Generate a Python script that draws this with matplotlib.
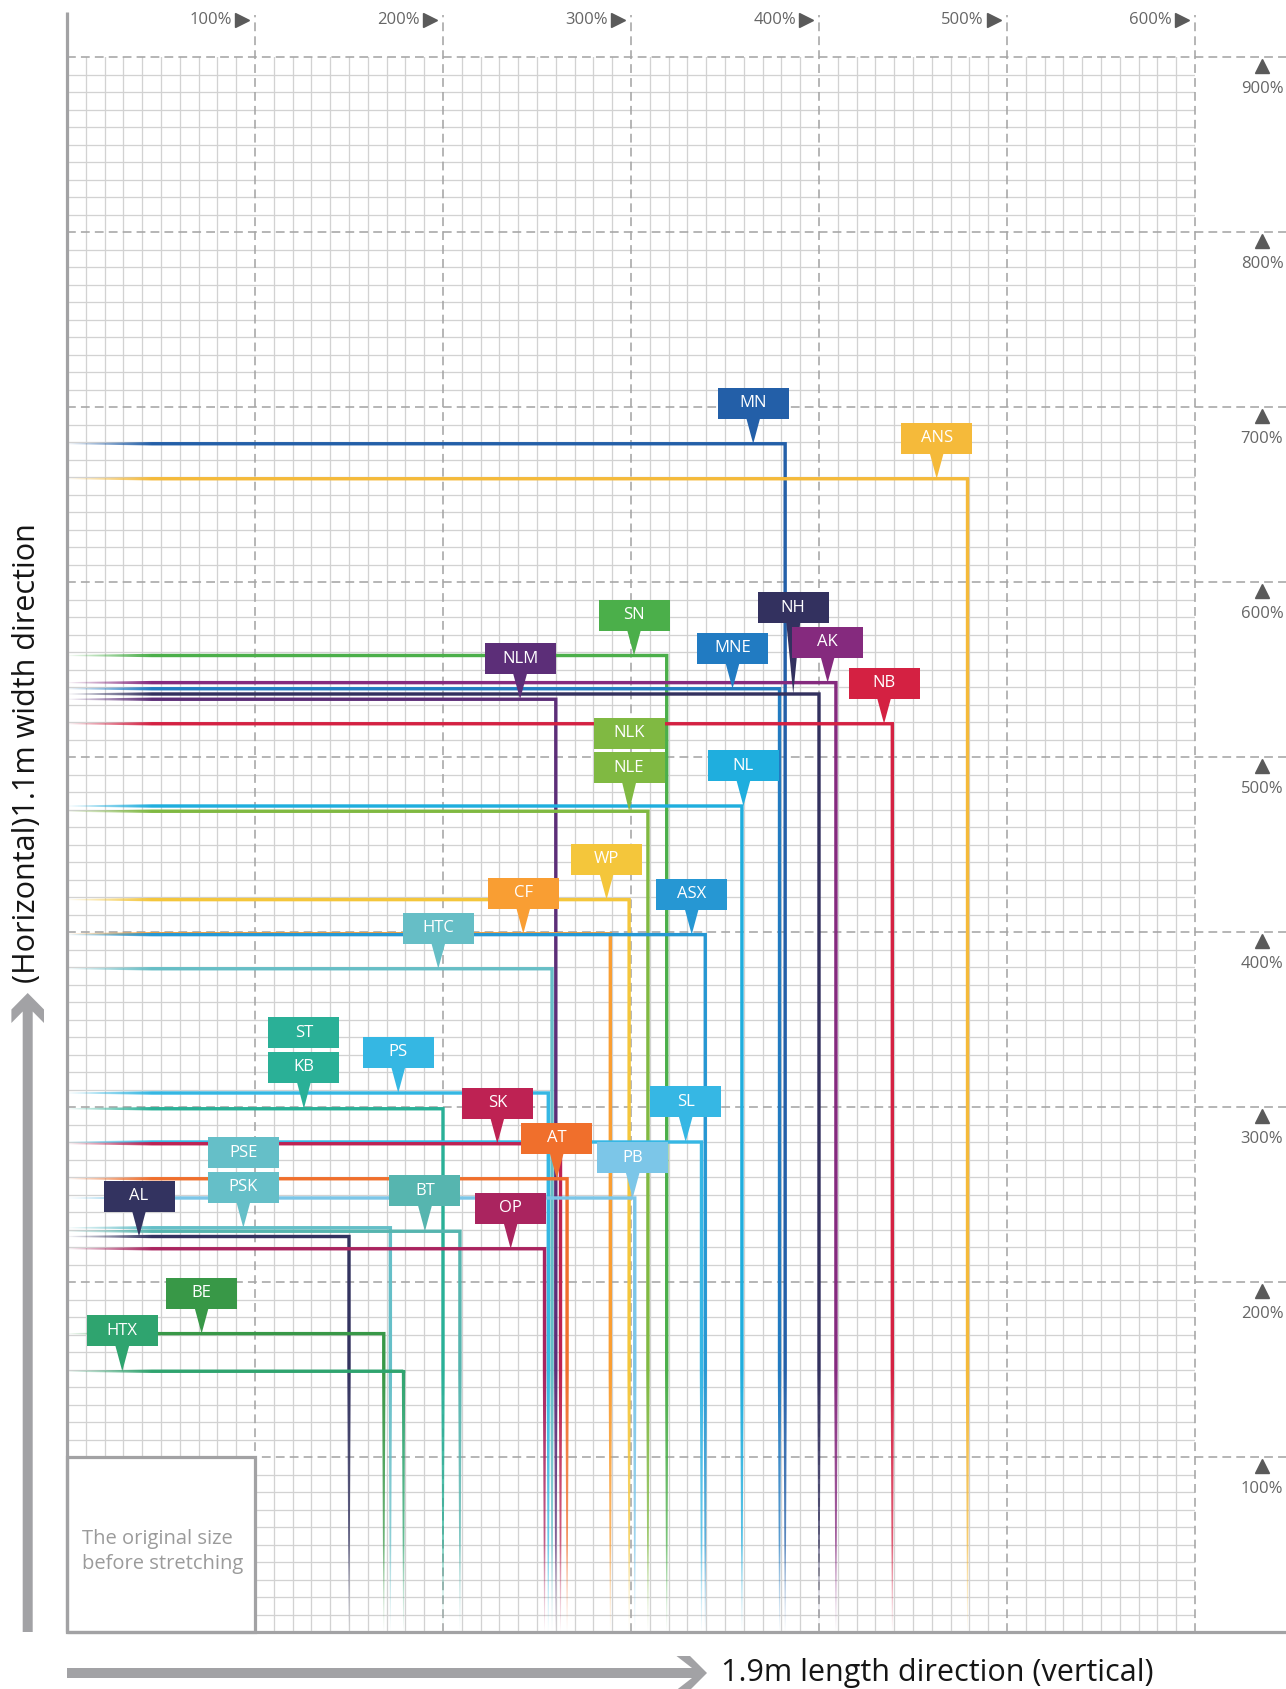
import numpy as np
import matplotlib
matplotlib.use("Agg")
import matplotlib.pyplot as plt
from matplotlib.collections import LineCollection
from matplotlib.patches import Rectangle, Polygon
from matplotlib.colors import to_rgb

plt.rcParams['font.family'] = ['Open Sans', 'DejaVu Sans']

# ---------------- data ----------------
names = ["MN", "ANS", "SN", "NLM", "NH", "MNE", "AK", "NB", "NLE", "NL", "WP", "CF",
         "ASX", "HTC", "KB", "PS", "SK", "SL", "AT", "PB", "PSK", "BT", "OP", "AL",
         "BE", "HTX"]
# second label sharing the same point (stacked box above)
stacked_names = {"NLE": "NLK", "KB": "ST", "PSK": "PSE"}
# stretch in length direction (vertical, shown on x) in %
length_pct = [382, 479, 319, 260, 400, 379, 409, 439, 309, 359, 299, 289,
              339.5, 258, 200, 256, 262.5, 337.5, 266, 302, 172, 209, 254, 150,
              168.5, 179]
# stretch in width direction (horizontal, shown on y) in %
width_pct = [679, 659, 558, 533, 536, 539, 542.5, 519, 469, 472, 418.5, 399,
             398.5, 379, 299, 308, 279, 280, 259, 248, 231, 229, 219, 226,
             170.5, 149]
colors = ["#235FA8", "#F5BA3A", "#4BAF4A", "#5C2E78", "#33315F", "#217BC2",
          "#852A7E", "#D42142", "#80B942", "#1FAEDE", "#F4C63B", "#F99E33",
          "#2697D3", "#66BEC6", "#2AB097", "#35B7E3", "#BE2253", "#36B7E4",
          "#F06F2C", "#7CC6E8", "#65BFC8", "#56B5AF", "#AA245F", "#333360",
          "#389847", "#2FA46F"]

x_ticks = [100, 200, 300, 400, 500, 600]
y_ticks = [100, 200, 300, 400, 500, 600, 700, 800, 900]

# label layout (tip x position in data units, pointer length in px)
label_tip_x = [365, 462.6, 301.6, 241, 386.3, 354, 404.6, 434.6, 299, 359.8, 287, 242.7,
               332.3, 197.5, 126, 176.2, 228.9, 329.1, 260.5, 300.9, 93.8, 190.4, 236, 38.3,
               71.6, 29.4]
pointer_px = [25, 25, 25, 25, 71, 25, 25, 25, 28, 25, 25, 25,
              25, 25, 26, 25, 25, 25, 25, 25, 25, 25, 25, 25,
              25, 25]

# ---------------- figure ----------------
W, H = 1286, 1689
fig = plt.figure(figsize=(W / 100, H / 100), dpi=100)
L, T, R, B = 67, 57, 1195, 1632
ax = fig.add_axes([L / W, 1 - B / H, (R - L) / W, (B - T) / H])
ax.axis('off')
ax.set_xlim(0, 600)
ax.set_ylim(0, 900)
PXX = (R - L) / 600.0
PXY = (B - T) / 900.0
PT = 0.72  # points per pixel

ov = fig.add_axes([0, 0, 1, 1], zorder=-1)
ov.set_xlim(0, W)
ov.set_ylim(H, 0)
ov.axis('off')

# grid (minor)
for v in range(10, 600, 10):
    if v % 100:
        ax.plot([v, v], [0, 900], color="#d2d2d2", lw=1.3 * PT, zorder=1)
for v in range(10, 900, 10):
    if v % 100:
        ax.plot([0, 600], [v, v], color="#d2d2d2", lw=1.3 * PT, zorder=1)
# major dashed
xr = (W - L) / PXX
for v in x_ticks:
    ax.plot([v, v], [0, 900 + 42 / PXY], color="#a6a6a6", lw=1.6 * PT,
            dashes=(5.5, 3.2), zorder=2, clip_on=False)
for v in y_ticks:
    ax.plot([0, xr], [v, v], color="#a6a6a6", lw=1.6 * PT,
            dashes=(5.5, 3.2), zorder=2, clip_on=False)

# tick labels
for v in x_ticks:
    ax.text(v - 12.3 / PXX * 1.88, 900 + 37 / PXY, f"{v}%", ha="right", va="center",
            fontsize=12, color="#666666", clip_on=False)
    ax.plot([v - 13.5 / PXX], [900 + 37 / PXY], marker=">", ms=10, color="#5a5a5a",
            clip_on=False, zorder=5)
for v in y_ticks:
    ax.plot([(1262 - L) / PXX], [v - 8.5 / PXY], marker="^", ms=10.5, color="#5a5a5a",
            clip_on=False, zorder=5)
    ax.text((1262 - L) / PXX, v - 32 / PXY, f"{v}%", ha="center", va="center",
            fontsize=12, color="#666666", clip_on=False)

# axis lines
ax.plot([0, 0], [0, (B - 12) / PXY], color="#a2a2a4", lw=3.2 * PT, zorder=6,
        clip_on=False, solid_capstyle="butt")
ax.plot([0, xr], [0, 0], color="#a2a2a4", lw=3.2 * PT, zorder=6, clip_on=False,
        solid_capstyle="butt")

# original-size box
ax.add_patch(Rectangle((0, 0), 100, 100, facecolor="white", edgecolor="#a2a2a4",
                       lw=3.2 * PT, zorder=4, clip_on=False))
ax.text(14.5 / PXX, 46.0, "The original size\nbefore stretching", ha="left", va="center",
        fontsize=14.5, color="#9b9b9b", linespacing=1.3, zorder=5)

# series lines: solid part + pixel-aligned fading part
LWPX = 3.4
FADE_XPX = 85      # px of fade at the left end
FADE_YPX = 262     # px of fade at the bottom
x_fade = FADE_XPX / PXX
y_fade = FADE_YPX / PXY


def fade_segments(rgb, z, horizontal, pos):
    k = np.arange(0, (FADE_XPX if horizontal else FADE_YPX) + 1)
    if horizontal:
        d = k / PXX
        segs = [((d[j], pos), (d[j + 1], pos)) for j in range(len(k) - 1)]
        f = (k[:-1] + 0.5) / FADE_XPX
        w = LWPX * (0.3 + 0.7 * f)
        a = f ** 0.85
    else:
        d = k / PXY
        segs = [((pos, d[j]), (pos, d[j + 1])) for j in range(len(k) - 1)]
        f = (k[:-1] + 0.5) / FADE_YPX
        w = LWPX * (0.25 + 0.75 * f)
        a = np.clip(f / 0.35, 0, 1) ** 0.9 * (0.6 + 0.4 * f)
    cols = [(rgb[0], rgb[1], rgb[2], float(x)) for x in a]
    lc = LineCollection(segs, colors=cols, linewidths=w * PT, capstyle="butt",
                        zorder=z, snap=False, antialiaseds=True)
    ax.add_collection(lc)


order = np.argsort(width_pct)[::-1]
for k, i in enumerate(order):
    xv, yv = length_pct[i], width_pct[i]
    rgb = to_rgb(colors[i])
    z = 3 + k * 0.01
    ax.plot([x_fade, xv, xv], [yv, yv, y_fade], color=rgb, lw=LWPX * PT,
            solid_joinstyle="miter", solid_capstyle="butt", zorder=z, snap=False)
    fade_segments(rgb, z, True, yv)
    fade_segments(rgb, z, False, xv)

# labels
BW, BH = 71 / PXX, 31 / PXY
HALF_P = 7 / PXX


def box(cx, y0, text, color, z):
    ax.add_patch(Rectangle((cx - BW / 2, y0), BW, BH, facecolor=color, edgecolor="none",
                           zorder=z, clip_on=False))
    ax.text(cx, y0 + BH / 2, text, ha="center", va="center", fontsize=12,
            color="white", zorder=z + 0.001, clip_on=False)


for i in range(len(names)):
    tx, yv = label_tip_x[i], width_pct[i]
    ptr = pointer_px[i] / PXY
    z = 10 + i * 0.01
    ax.add_patch(Polygon([(tx - HALF_P, yv + ptr + 0.5), (tx + HALF_P, yv + ptr + 0.5), (tx, yv)],
                         closed=True, facecolor=colors[i], edgecolor="none", zorder=z))
    box(tx, yv + ptr, names[i], colors[i], z)
    if names[i] in stacked_names:
        box(tx, yv + ptr + BH + 3.5 / PXY, stacked_names[names[i]], colors[i], z)

ax.set_xlim(0, 600)
ax.set_ylim(0, 900)

# arrows & axis titles (pixel overlay)
GRAY = "#a2a2a5"
ov.add_patch(Polygon([(27.7, 993), (44, 1009.5), (44, 1023), (32.7, 1011.5), (32.7, 1632),
                      (22.7, 1632), (22.7, 1011.5), (11.4, 1023), (11.4, 1009.5)],
                     closed=True, facecolor=GRAY, edgecolor="none"))
ov.add_patch(Polygon([(707, 1673), (690, 1690), (676.5, 1690), (692, 1678), (67, 1678),
                      (67, 1668), (692, 1668), (676.5, 1656), (690, 1656)],
                     closed=True, facecolor=GRAY, edgecolor="none"))
ov.text(27, 753, "(Horizontal)1.1m width direction", rotation=90, ha="center",
        va="center", fontsize=22, color="#151515")
ov.text(721, 1673, "1.9m length direction (vertical)", ha="left", va="center",
        fontsize=22, color="#151515")

fig.savefig("out.png", dpi=100)
